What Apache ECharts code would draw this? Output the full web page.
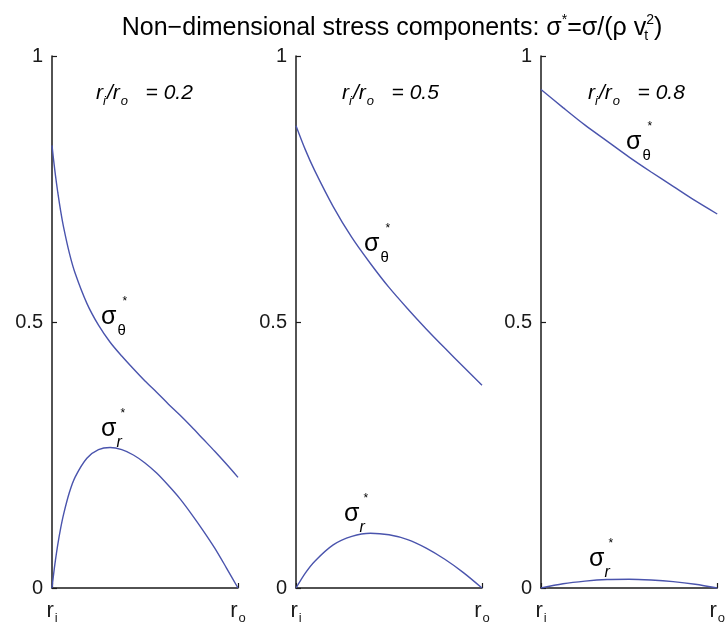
<!DOCTYPE html>
<html>
<head>
<meta charset="utf-8">
<script src="https://cdn.jsdelivr.net/npm/echarts@6/dist/echarts.min.js"></script>
<style>
  html, body { margin: 0; padding: 0; background: #fff; }
  #chart { width: 728px; height: 628px; }
</style>
</head>
<body>
<div id="chart"></div>
<script>
// inner/outer radius ratio of each panel
const ratios = [0.2, 0.5, 0.8];
const ratioLabels = ['0.2', '0.5', '0.8'];

// panel 1: ri/ro = 0.2
const radius1 = [0.2, 0.205, 0.21, 0.215, 0.225, 0.2375, 0.25, 0.275, 0.3, 0.35, 0.4, 0.45, 0.5,
  0.55, 0.6, 0.65, 0.7, 0.75, 0.8, 0.85, 0.9, 0.95, 1.0];
const sigmaTheta1 = [0.832, 0.812, 0.793, 0.775, 0.743, 0.708, 0.678, 0.629, 0.591, 0.535, 0.494, 0.462, 0.436,
  0.412, 0.389, 0.368, 0.346, 0.325, 0.303, 0.280, 0.257, 0.233, 0.208];
const sigmaR1 = [0, 0.019, 0.037, 0.053, 0.082, 0.113, 0.139, 0.180, 0.209, 0.244, 0.260, 0.264, 0.260,
  0.250, 0.235, 0.216, 0.193, 0.168, 0.139, 0.108, 0.075, 0.038, 0];

// panel 2: ri/ro = 0.5
const radius2 = [0.5, 0.525, 0.55, 0.6, 0.65, 0.7, 0.75, 0.8, 0.85, 0.9, 0.95, 1.0];
const sigmaTheta2 = [0.869, 0.824, 0.785, 0.717, 0.659, 0.610, 0.565, 0.525, 0.487, 0.451, 0.416, 0.381];
const sigmaR2 = [0, 0.028, 0.050, 0.081, 0.097, 0.103, 0.100, 0.091, 0.075, 0.054, 0.029, 0];

// panel 3: ri/ro = 0.8
const radius3 = [0.8, 0.825, 0.85, 0.875, 0.9, 0.925, 0.95, 0.975, 1.0];
const sigmaTheta3 = [0.937, 0.903, 0.870, 0.840, 0.810, 0.782, 0.755, 0.728, 0.703];
const sigmaR3 = [0, 0.008, 0.013, 0.016, 0.0165, 0.015, 0.012, 0.007, 0];

const yTicks = [0, 0.5, 1];

const radii = [radius1, radius2, radius3];
const thetaSets = [sigmaTheta1, sigmaTheta2, sigmaTheta3];
const radialSets = [sigmaR1, sigmaR2, sigmaR3];

const chart = echarts.init(document.getElementById('chart'));

const FONT = "'Liberation Sans', Arial, Helvetica, sans-serif";
const LINE = '#4a54ad';
const INK = '#1a1a1a';

// pixel layout of the three panels
const panelLeft = [52, 296, 541];
const panelWidth = 186;

function zip(xs, ys) {
  return xs.map((x, i) => [x, ys[i]]);
}

const subRich = {
  r: { fontFamily: FONT, fontSize: 22, color: INK },
  s: { fontFamily: FONT, fontSize: 13, color: INK, padding: [16, 0, 0, 1] }
};

const grids = [], xAxes = [], yAxes = [], series = [];
ratios.forEach((ri, p) => {
  grids.push({ left: panelLeft[p], top: 56, width: panelWidth, height: 532 });
  xAxes.push({
    type: 'value', gridIndex: p, min: ri, max: 1, interval: 1 - ri,
    axisLine: { onZero: false, lineStyle: { color: INK, width: 1.5 } },
    axisTick: { inside: true, length: 5, lineStyle: { color: INK, width: 1.2 } },
    splitLine: { show: false },
    axisLabel: {
      margin: 8, showMinLabel: true, showMaxLabel: true,
      formatter: v => (v < 0.999 ? '{r|r}{s|i}' : '{r|r}{s|o}'),
      rich: subRich
    }
  });
  yAxes.push({
    type: 'value', gridIndex: p, min: 0, max: 1, interval: 0.5,
    axisLine: { show: true, onZero: false, lineStyle: { color: INK, width: 1.5 } },
    axisTick: { inside: true, length: 5, lineStyle: { color: INK, width: 1.2 } },
    splitLine: { show: false },
    axisLabel: {
      margin: 9, color: INK, fontFamily: FONT, fontSize: 20,
      formatter: v => (yTicks.indexOf(v) >= 0 ? String(v) : '')
    }
  });
  [thetaSets[p], radialSets[p]].forEach(vals => {
    series.push({
      type: 'line', xAxisIndex: p, yAxisIndex: p,
      data: zip(radii[p], vals),
      smooth: 0.3, showSymbol: false, symbol: 'none',
      lineStyle: { color: LINE, width: 1.4 },
      silent: true, animation: false
    });
  });
});

// annotation anchors (pixels): ratio text, sigma_theta, sigma_r
const ratioPos = [[96, 93], [342, 93], [588, 93]];
const thetaPos = [[101, 317], [364, 244], [626, 142]];
const radialPos = [[101, 429], [344, 514], [589, 559]];

const sigmaRich = {
  g: { fontFamily: FONT, fontSize: 25, color: INK },
  sub: { fontFamily: FONT, fontSize: 15, color: INK, width: 5, padding: [28, 0, 0, 1] },
  subr: { fontFamily: FONT, fontSize: 16, fontStyle: 'italic', color: INK, width: 4, padding: [28, 0, 0, 0] },
  st: { fontFamily: FONT, fontSize: 12, color: INK, padding: [0, 0, 30, 0] }
};
const ratioRich = {
  a: { fontFamily: FONT, fontSize: 21, fontStyle: 'italic', color: INK },
  s: { fontFamily: FONT, fontSize: 13, fontStyle: 'italic', color: INK, padding: [16, 0, 0, 1] },
  si: { fontFamily: FONT, fontSize: 13, fontStyle: 'italic', color: INK, width: 4, padding: [16, 0, 0, 0] }
};

const graphic = [];
ratios.forEach((ri, p) => {
  graphic.push({
    type: 'text', x: ratioPos[p][0], y: ratioPos[p][1], silent: true,
    style: {
      text: '{a|r}{si|i}{a|/r}{s|o}{a|   = ' + ratioLabels[p] + '}',
      rich: ratioRich, verticalAlign: 'middle', align: 'left'
    }
  });
  graphic.push({
    type: 'text', x: thetaPos[p][0], y: thetaPos[p][1], silent: true,
    style: { text: '{g|σ}{sub|θ}{st|*}', rich: sigmaRich, verticalAlign: 'middle', align: 'left' }
  });
  graphic.push({
    type: 'text', x: radialPos[p][0], y: radialPos[p][1], silent: true,
    style: { text: '{g|σ}{subr|r}{st|*}', rich: sigmaRich, verticalAlign: 'middle', align: 'left' }
  });
});

// title
graphic.push({
  type: 'text', x: 392, y: 28, silent: true,
  style: {
    text: '{m|Non−dimensional stress components: σ}{p|*}{m|=σ/(ρ v}{t|t}{p|2}{m|)}',
    verticalAlign: 'middle', align: 'center',
    rich: {
      m: { fontFamily: FONT, fontSize: 25, color: INK },
      p: { fontFamily: FONT, fontSize: 14, color: INK, padding: [0, 0, 16, 0] },
      t: { fontFamily: FONT, fontSize: 14, color: INK, width: 0, padding: [16, 0, 0, 0] }
    }
  }
});

let option = {
  animation: false,
  backgroundColor: '#fff',
  grid: grids,
  xAxis: xAxes,
  yAxis: yAxes,
  series: series,
  graphic: graphic
};

chart.setOption(option);
</script>
</body>
</html>
